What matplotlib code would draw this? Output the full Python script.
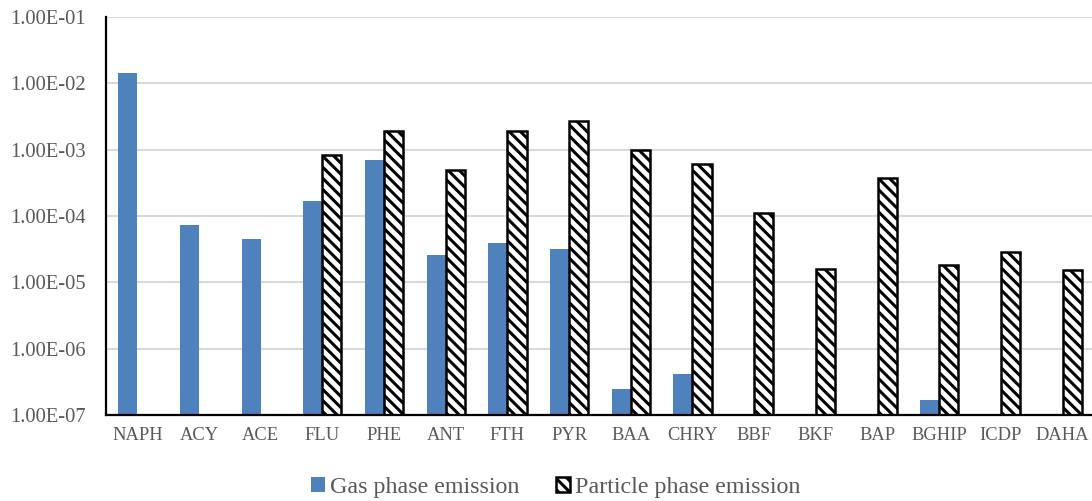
import matplotlib.pyplot as plt
import matplotlib.ticker as mticker
import numpy as np

# PAH emission factors (log scale)
compounds = ['NAPH', 'ACY', 'ACE', 'FLU', 'PHE', 'ANT', 'FTH', 'PYR',
             'BAA', 'CHRY', 'BBF', 'BKF', 'BAP', 'BGHIP', 'ICDP', 'DAHA']
gas = [1.42e-2, 7.3e-5, 4.5e-5, 1.68e-4, 7.1e-4, 2.6e-5, 3.9e-5, 3.2e-5,
       2.5e-7, 4.2e-7, np.nan, np.nan, np.nan, 1.7e-7, np.nan, np.nan]
particle = [np.nan, np.nan, np.nan, 8.4e-4, 1.93e-3, 5.0e-4, 1.93e-3, 2.74e-3,
            1.0e-3, 6.2e-4, 1.11e-4, 1.57e-5, 3.7e-4, 1.8e-5, 2.83e-5, 1.52e-5]

plt.rcParams['font.family'] = ['Liberation Serif', 'DejaVu Serif']
plt.rcParams['hatch.linewidth'] = 2.2

fig = plt.figure(figsize=(10.92, 5.01), dpi=100)
ax = fig.add_axes([0.0975, 0.1717, 0.9038, 0.794])

x = np.arange(len(compounds))
w = 0.31
ax.bar(x - w / 2, gas, w, color='#4f81bd',
       label='Gas phase emission', zorder=3)
ax.bar(x + w / 2, particle, w, color='white', edgecolor='black',
       linewidth=1.8, hatch='\\\\\\', label='Particle phase emission', zorder=3)

ax.set_yscale('log')
ax.set_ylim(1e-7, 1e-1)
ax.set_xlim(-0.5, len(compounds) - 0.5)
ax.yaxis.set_major_locator(mticker.LogLocator(base=10, numticks=10))
ax.yaxis.set_minor_locator(mticker.NullLocator())
ax.yaxis.set_major_formatter(mticker.FuncFormatter(lambda v, p: '%.2E' % v))
ax.set_xticks(x)
ax.set_xticklabels(compounds)

ax.grid(axis='y', color='#d9d9d9', linewidth=1.5, zorder=0)
ax.tick_params(length=0, labelcolor='#595959')
ax.tick_params(axis='y', pad=15, labelsize=14.8)
ax.tick_params(axis='x', pad=9, labelsize=13.3)
for s in ['top', 'right']:
    ax.spines[s].set_visible(False)
for s in ['left', 'bottom']:
    ax.spines[s].set_linewidth(1.6)
    ax.spines[s].set_color('black')
    ax.spines[s].set_zorder(4)

leg = ax.legend(loc='center', bbox_to_anchor=(0.455, -0.183), ncol=2,
                frameon=False, fontsize=17.3, handlelength=0.6,
                handleheight=0.6, handletextpad=0.2, columnspacing=1.5)
for t in leg.get_texts():
    t.set_color('#595959')

fig.savefig('out.png', dpi=100)
